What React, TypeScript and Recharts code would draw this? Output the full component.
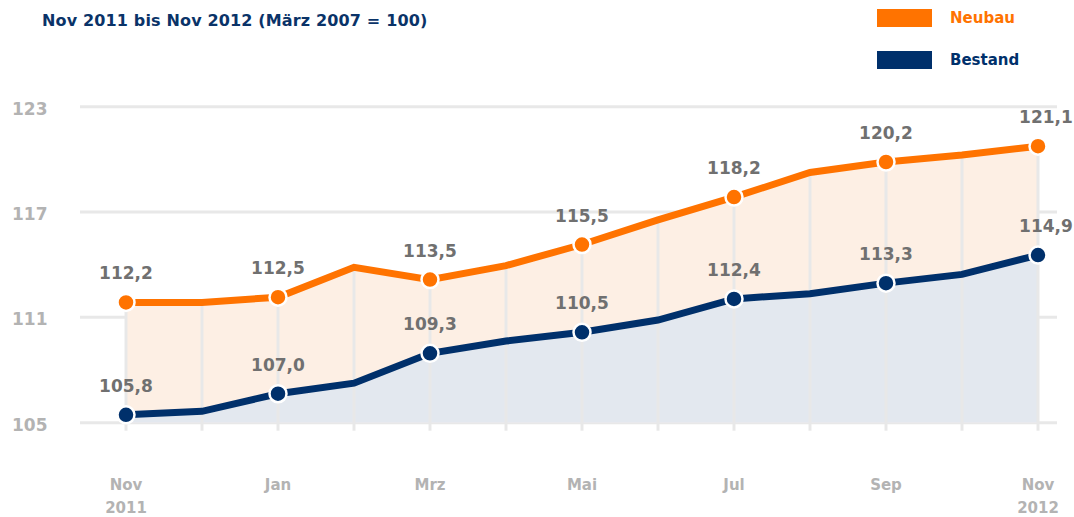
import {
  ComposedChart,
  XAxis,
  YAxis,
  CartesianGrid,
  Area,
  Line,
  LabelList,
  ReferenceLine,
} from "recharts";

const months = ["Nov 2011", "Dez", "Jan", "Feb", "Mrz", "Apr", "Mai", "Jun", "Jul", "Aug", "Sep", "Okt", "Nov 2012"];
const neubau = [112.2, 112.2, 112.5, 114.2, 113.5, 114.3, 115.5, 116.9, 118.2, 119.6, 120.2, 120.6, 121.1];
const bestand = [105.8, 106.0, 107.0, 107.6, 109.3, 110.0, 110.5, 111.2, 112.4, 112.7, 113.3, 113.8, 114.9];
// gridlines sit slightly off the round numbers in the original
const yTicks = [105.35, 111.35, 117.35, 123.35];

const ORANGE = "#ff7300";
const NAVY = "#00306b";
const FONT = "'DejaVu Sans', sans-serif";

const data = months.map((m, i) => ({ month: m, neubau: neubau[i], bestand: bestand[i] }));

const fmt = (v: number) => v.toFixed(1).replace(".", ",");

const YTick = ({ y, payload }: any) => (
  <text x={12} y={y} dy={8} fill="#b3b3b3" fontSize={17} fontWeight="bold" fontFamily={FONT}>
    {Math.round(payload.value)}
  </text>
);

const XTick = ({ x, y, payload, index }: any) => {
  if (index % 2 !== 0) return null;
  const parts = String(payload.value).split(" ");
  return (
    <text x={x} y={y + 57} textAnchor="middle" fill="#b3b3b3" fontSize={15} fontWeight="bold" fontFamily={FONT}>
      {parts.map((p, k) => (
        <tspan key={k} x={x} dy={k === 0 ? 0 : 23}>{p}</tspan>
      ))}
    </text>
  );
};

const ValueLabel = ({ x, y, value, index }: any) => {
  if (index % 2 !== 0) return null;
  const dx = index === months.length - 1 ? 8 : 0;
  return (
    <text x={x + dx} y={y - 23} textAnchor="middle" fill="#707070" fontSize={17} fontWeight="bold" fontFamily={FONT}>
      {fmt(value)}
    </text>
  );
};

const makeDot = (color: string) => (props: any) => {
  const { cx, cy, index } = props;
  if (index % 2 !== 0) return <g key={index} />;
  return <circle key={index} cx={cx} cy={cy} r={8.5} fill={color} stroke="#fff" strokeWidth={2.5} />;
};

const legendItems = [
  { name: "Neubau", color: ORANGE },
  { name: "Bestand", color: NAVY },
];

export default function App() {
  return (
    <div style={{ position: "absolute", left: 0, top: 0, width: 1074, height: 517, background: "#fff" }}>
      <div
        style={{
          position: "absolute", left: 42, top: 11, fontFamily: FONT, fontWeight: "bold",
          fontSize: 16, lineHeight: "20px", color: "#0a3368", whiteSpace: "nowrap", letterSpacing: 0.15,
        }}
      >
        Nov 2011 bis Nov 2012 (März 2007 = 100)
      </div>
      {legendItems.map((it, i) => (
        <div key={it.name} style={{ position: "absolute", left: 877, top: 9 + i * 42, height: 18, display: "flex", alignItems: "center" }}>
          <div style={{ width: 55, height: 18, background: it.color }} />
          <span style={{ marginLeft: 18, fontFamily: FONT, fontWeight: "bold", fontSize: 15, color: it.color }}>{it.name}</span>
        </div>
      ))}
      <ComposedChart width={1074} height={517} data={data} margin={{ top: 106.7, right: 17, bottom: 34.3, left: 0 }}>
        <CartesianGrid horizontal vertical={false} stroke="#e8e8e8" strokeWidth={3} />
        <XAxis
          dataKey="month"
          interval={0}
          padding={{ left: 46, right: 19 }}
          axisLine={false}
          tickLine={{ stroke: "#e8e8e8", strokeWidth: 3 }}
          tickSize={8}
          height={60}
          tick={<XTick />}
        />
        <YAxis
          width={80}
          domain={[yTicks[0], yTicks[yTicks.length - 1]]}
          ticks={yTicks}
          axisLine={false}
          tickLine={false}
          tick={<YTick />}
        />
        <Area type="linear" dataKey="neubau" stroke="none" fill="#fdefe4" fillOpacity={1} isAnimationActive={false} />
        <Area type="linear" dataKey="bestand" stroke="none" fill="#e3e8ef" fillOpacity={1} isAnimationActive={false} />
        {data.map((d) => (
          <ReferenceLine
            key={d.month}
            segment={[{ x: d.month, y: yTicks[0] }, { x: d.month, y: d.neubau }]}
            stroke="#e8e8e8"
            strokeWidth={3}
          />
        ))}
        <Line type="linear" dataKey="neubau" stroke={ORANGE} strokeWidth={7} dot={makeDot(ORANGE)} activeDot={false} isAnimationActive={false}>
          <LabelList dataKey="neubau" content={<ValueLabel />} />
        </Line>
        <Line type="linear" dataKey="bestand" stroke={NAVY} strokeWidth={7} dot={makeDot(NAVY)} activeDot={false} isAnimationActive={false}>
          <LabelList dataKey="bestand" content={<ValueLabel />} />
        </Line>
      </ComposedChart>
    </div>
  );
}
